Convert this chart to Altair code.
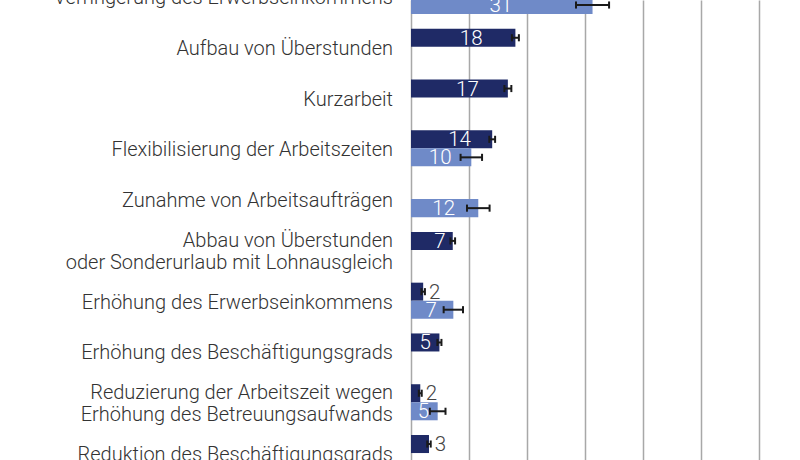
import altair as alt
import pandas as pd

categories = [
    "Verringerung des Erwerbseinkommens",
    "Aufbau von Überstunden",
    "Kurzarbeit",
    "Flexibilisierung der Arbeitszeiten",
    "Zunahme von Arbeitsaufträgen",
    "Abbau von Überstunden\noder Sonderurlaub mit Lohnausgleich",
    "Erhöhung des Erwerbseinkommens",
    "Erhöhung des Beschäftigungsgrads",
    "Reduzierung der Arbeitszeit wegen\nErhöhung des Betreuungsaufwands",
    "Reduktion des Beschäftigungsgrads",
]
dark_values = [None, 18.0, 16.7, 14.0, None, 7.2, 2.1, 4.9, 1.6, 3.1]
dark_err = [None, 0.6, 0.6, 0.5, None, 0.4, 0.3, 0.35, 0.25, 0.3]
dark_labels = [None, "18", "17", "14", None, "7", "2", "5", "2", "3"]
light_values = [31.3, None, None, 10.4, 11.6, None, 7.3, None, 4.6, None]
light_err = [2.85, None, None, 1.85, 1.95, None, 1.67, None, 1.35, None]
light_labels = ["31", None, None, "10", "12", None, "7", None, "5", None]

DARK = "#1f2a66"
LIGHT = "#6f8ac8"
BAR_H = 0.355   # fraction of the row step taken by one bar
CAP = 0.07

rows = []
for i, cat in enumerate(categories):
    for series, vals, errs, labs in (("dark", dark_values, dark_err, dark_labels),
                                     ("light", light_values, light_err, light_labels)):
        v = vals[i]
        if v is None:
            continue
        top = i - BAR_H if series == "dark" else i
        bot = i if series == "dark" else i + BAR_H
        mid = (top + bot) / 2
        rows.append(dict(idx=i, series=series, value=v, zero=0.0,
                         lo=v - errs[i], hi=v + errs[i], label=labs[i],
                         top=top, bot=bot, mid=mid,
                         cap0=mid - CAP, cap1=mid + CAP, half=v / 2))
df = pd.DataFrame(rows)
cat_df = pd.DataFrame({"idx": list(range(len(categories))), "cat": categories,
                       "multi": ["\n" in c for c in categories]})

FONT = "Roboto"
xscale = alt.Scale(domain=[0, 67.07], nice=False, zero=True)
yscale = alt.Scale(domain=[0.079, 9.137], nice=False, zero=False, reverse=True)

xax = alt.Axis(values=[0, 10, 20, 30, 40, 50, 60], labels=False, ticks=False,
               domain=False, title=None, grid=True, gridColor="#a8a8a8", gridWidth=1.5)

base = alt.Chart(df)

bars = base.mark_rect().encode(
    x=alt.X("zero:Q", scale=xscale, axis=xax),
    x2="value:Q",
    y=alt.Y("top:Q", scale=yscale, axis=None),
    y2="bot:Q",
    color=alt.Color("series:N", scale=alt.Scale(domain=["dark", "light"], range=[DARK, LIGHT]),
                    legend=None),
)

err = base.mark_rule(color="#1a1a1a", strokeWidth=2).encode(
    x=alt.X("lo:Q", scale=xscale), x2="hi:Q",
    y=alt.Y("mid:Q", scale=yscale),
)
cap_lo = base.mark_rule(color="#1a1a1a", strokeWidth=2).encode(
    x=alt.X("lo:Q", scale=xscale), y=alt.Y("cap0:Q", scale=yscale), y2="cap1:Q",
)
cap_hi = base.mark_rule(color="#1a1a1a", strokeWidth=2).encode(
    x=alt.X("hi:Q", scale=xscale), y=alt.Y("cap0:Q", scale=yscale), y2="cap1:Q",
)

def value_text(filt, dx, color="white", align="center", field="half"):
    return base.transform_filter(filt).mark_text(
        color=color, font=FONT, fontWeight=300, fontSize=20.5, baseline="middle",
        align=align, dx=dx, dy=1
    ).encode(x=alt.X(f"{field}:Q", scale=xscale), y=alt.Y("mid:Q", scale=yscale), text="label:N")

inside_dark_big = value_text("datum.series == 'dark' && datum.value >= 7", 8)
inside_dark_small = value_text("datum.series == 'dark' && datum.value >= 4 && datum.value < 7", 0)
inside_light = value_text("datum.series == 'light'", -1)
outside = value_text("datum.value < 4", 4, color="#444444", align="left", field="hi")

def cat_text(filt, dy):
    return alt.Chart(cat_df).transform_filter(filt).mark_text(
        color="#333333", font=FONT, fontWeight=300, fontSize=20, align="right",
        baseline="middle", lineBreak="\n", lineHeight=22, dy=dy
    ).encode(x=alt.value(-18), y=alt.Y("idx:Q", scale=yscale), text="cat:N")

cat_single = cat_text("!datum.multi", 2)
cat_multi = cat_text("datum.multi", -9)

chart = alt.layer(bars, err, cap_lo, cap_hi, inside_dark_big, inside_dark_small, inside_light,
                  outside, cat_single, cat_multi).properties(
    width=389, height=460,
    autosize=alt.AutoSizeParams(type="none"),
    padding={"left": 411, "top": 0, "right": 0, "bottom": 0},
    background="white",
).configure_view(stroke=None)

chart.save("out.html", embed_options={"renderer": "svg", "actions": False})
